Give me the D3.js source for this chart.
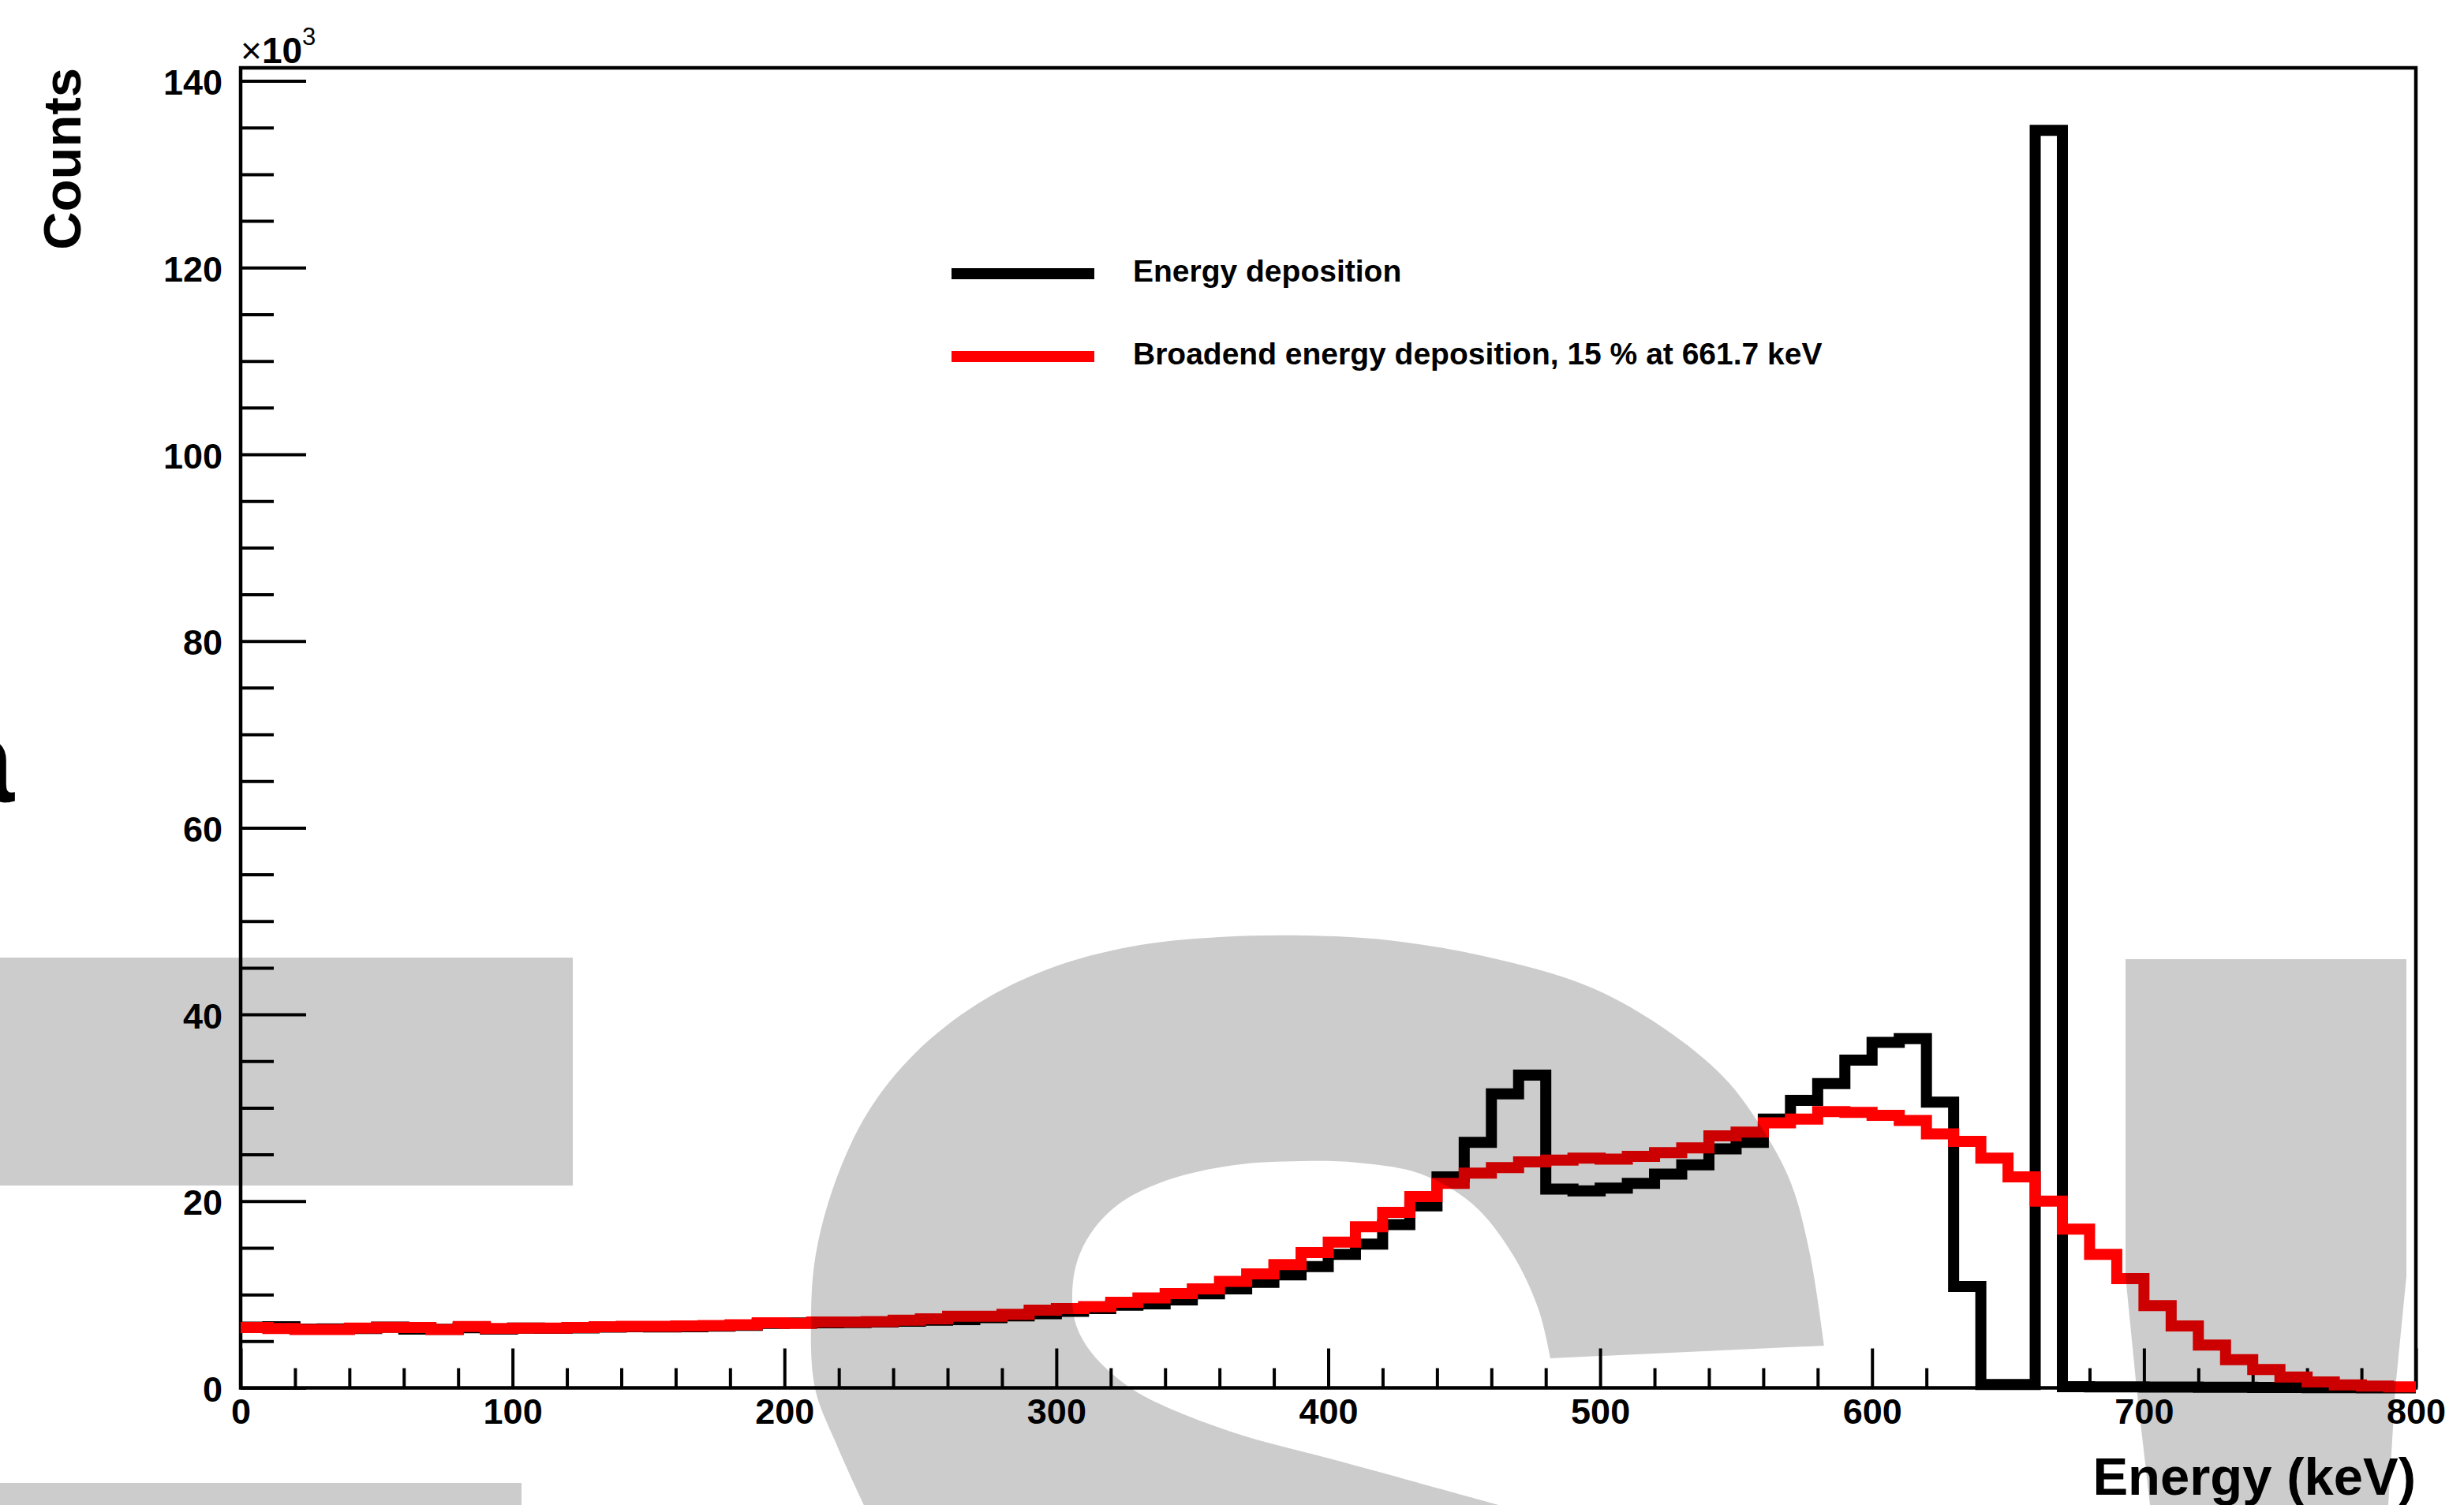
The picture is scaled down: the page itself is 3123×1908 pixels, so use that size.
<!DOCTYPE html>
<html>
<head>
<meta charset="utf-8">
<script src="https://cdn.jsdelivr.net/npm/d3@7"></script>
<style>
  html, body { margin: 0; padding: 0; background: #fff; }
  svg { display: block; }
  text { font-family: "Liberation Sans", Arial, Helvetica, sans-serif; }
</style>
</head>
<body>
<script>
// ---------------- DATA ----------------
const binWidth = 10;        // keV
const xDomain = [0, 800];
const yMax = 141.4;          // x10^3 counts
// Energy deposition (x10^3 counts per 10 keV bin), bins 0-10 ... 790-800 keV
const energyDeposition = [
  6.50, 6.55, 6.30, 6.32, 6.35, 6.50, 6.30, 6.28, 6.45, 6.30,
  6.40, 6.38, 6.42, 6.50, 6.55, 6.52, 6.55, 6.62, 6.70, 6.90,
  6.95, 6.98, 7.00, 7.05, 7.15, 7.25, 7.30, 7.53, 7.70, 7.95,
  8.20, 8.49, 8.85, 9.00, 9.42, 10.07, 10.6, 11.3, 12.1, 13.0,
  14.3, 15.4, 17.5, 19.5, 22.6, 26.3, 31.5, 33.5, 21.3, 21.1,
  21.4, 21.9, 22.9, 23.9, 25.6, 26.3, 28.8, 30.8, 32.6, 35.1,
  37.0, 37.4, 30.6, 10.85, 0.35, 0.35, 134.7, 0.12, 0.10, 0.10,
  0.09, 0.08, 0.07, 0.06, 0.05, 0.04, 0.03, 0.02, 0.01, 0.01
];
// Broadened energy deposition, 15 % at 661.7 keV
const broadenedDeposition = [
  6.46, 6.35, 6.26, 6.26, 6.40, 6.49, 6.46, 6.26, 6.57, 6.35,
  6.40, 6.40, 6.46, 6.54, 6.60, 6.60, 6.63, 6.68, 6.77, 6.97,
  6.91, 7.05, 7.05, 7.10, 7.25, 7.39, 7.67, 7.67, 7.87, 8.32,
  8.50, 8.70, 9.16, 9.64, 10.1, 10.6, 11.4, 12.2, 13.2, 14.5,
  15.6, 17.25, 18.8, 20.5, 21.9, 23.0, 23.6, 24.2, 24.4, 24.6,
  24.5, 24.8, 25.2, 25.7, 27.0, 27.4, 28.4, 28.8, 29.6, 29.5,
  29.2, 28.65, 27.2, 26.4, 24.6, 22.6, 20.0, 17.0, 14.3, 11.7,
  8.8, 6.63, 4.58, 3.03, 1.96, 1.17, 0.63, 0.32, 0.18, 0.10
];
const xMajorTicks = [0, 100, 200, 300, 400, 500, 600, 700, 800];
const xMinorTicks = d3.range(0, 801, 20).filter(v => v % 100 !== 0);
const yMajorTicks = [0, 20, 40, 60, 80, 100, 120, 140];
const yMinorTicks = d3.range(0, 141, 5).filter(v => v % 20 !== 0);
const legendLabels = ["Energy deposition", "Broadend energy deposition, 15 % at 661.7 keV"];
const seriesColors = ["#000000", "#ff0000"];
const xTitle = "Energy (keV)";
const yTitle = "Counts";

// ---------------- LAYOUT ----------------
const W = 3123, H = 1908;
const frame = { left: 305, right: 3062, top: 86, bottom: 1759.5 };

const svg = d3.select("body").append("svg")
  .attr("width", W).attr("height", H).attr("viewBox", `0 0 ${W} ${H}`);

const x = d3.scaleLinear().domain(xDomain).range([frame.left, frame.right]);
const y = d3.scaleLinear().domain([0, yMax]).range([frame.bottom, frame.top]);

// Frame
svg.append("rect")
  .attr("x", frame.left).attr("y", frame.top)
  .attr("width", frame.right - frame.left).attr("height", frame.bottom - frame.top)
  .attr("fill", "none").attr("stroke", "#000").attr("stroke-width", 4.5);

// Axes (ticks inside the frame, ROOT style)
const xMinorAxis = d3.axisBottom(x).tickValues(xMinorTicks).tickSize(-25).tickSizeOuter(0).tickFormat("");
const xMajorAxis = d3.axisBottom(x).tickValues(xMajorTicks).tickSize(-50).tickSizeOuter(0).tickPadding(14);
const yMinorAxis = d3.axisLeft(y).tickValues(yMinorTicks).tickSize(-42).tickSizeOuter(0).tickFormat("");
const yMajorAxis = d3.axisLeft(y).tickValues(yMajorTicks).tickSize(-83).tickSizeOuter(0).tickPadding(23);

function styleAxis(g) {
  g.select(".domain").remove();
  g.selectAll(".tick line").attr("stroke", "#000").attr("stroke-width", 4);
  g.selectAll(".tick text")
    .attr("fill", "#000")
    .style("font-family", '"Liberation Sans", Arial, sans-serif')
    .style("font-weight", "bold")
    .style("font-size", "45px");
}
svg.append("g").attr("transform", `translate(0,${frame.bottom})`).call(xMinorAxis).call(styleAxis);
svg.append("g").attr("transform", `translate(0,${frame.bottom})`).call(xMajorAxis).call(styleAxis);
svg.append("g").attr("transform", `translate(${frame.left},0)`).call(yMinorAxis).call(styleAxis);
const yg = svg.append("g").attr("transform", `translate(${frame.left},0)`).call(yMajorAxis).call(styleAxis);
yg.selectAll(".tick text").attr("dy", "0.38em");

// Histograms
function stepPoints(values) {
  const pts = values.map((v, i) => [i * binWidth, v]);
  pts.push([values.length * binWidth, values[values.length - 1]]);
  return pts;
}
const line = d3.line().x(d => x(d[0])).y(d => y(d[1])).curve(d3.curveStepAfter);
[energyDeposition, broadenedDeposition].forEach((vals, i) => {
  svg.append("path")
    .attr("d", line(stepPoints(vals)))
    .attr("fill", "none")
    .attr("stroke", seriesColors[i])
    .attr("stroke-width", 14)
    .attr("stroke-linejoin", "miter")
    .attr("stroke-linecap", "butt");
});

// Exponent label
const expo = svg.append("text").attr("x", frame.left).attr("y", 80)
  .style("font-size", "46px").attr("fill", "#000");
expo.append("tspan").text("×").style("font-weight", "normal");
expo.append("tspan").text("10").style("font-weight", "bold");
expo.append("tspan").text("3").attr("dy", -23).style("font-size", "31px").style("font-weight", "normal");

// Axis titles
svg.append("text")
  .attr("transform", `translate(102,${frame.top}) rotate(-90)`)
  .attr("text-anchor", "end")
  .style("font-size", "67px").style("font-weight", "bold")
  .text(yTitle);
svg.append("text")
  .attr("x", frame.right).attr("y", 1895)
  .attr("text-anchor", "end")
  .style("font-size", "67px").style("font-weight", "bold")
  .text(xTitle);

// Legend
const legendY = [347, 452];
legendLabels.forEach((lab, i) => {
  svg.append("line")
    .attr("x1", 1206).attr("x2", 1387)
    .attr("y1", legendY[i]).attr("y2", legendY[i])
    .attr("stroke", seriesColors[i]).attr("stroke-width", 14);
  svg.append("text")
    .attr("x", 1436).attr("y", legendY[i] + 10)
    .style("font-size", "39px").style("font-weight", "bold")
    .text(lab);
});

// Partial glyph at the left edge (cut off in the original as well)
svg.append("text")
  .attr("x", 18).attr("y", 1017)
  .attr("text-anchor", "end")
  .style("font-size", "150px").style("font-weight", "bold")
  .text("a");

// Gray watermark shapes (translucent overlay)
const wm = svg.append("g").attr("fill", "#000").attr("fill-opacity", 0.2);
wm.append("rect").attr("x", 0).attr("y", 1214).attr("width", 726).attr("height", 289);
wm.append("rect").attr("x", 0).attr("y", 1880).attr("width", 661).attr("height", 40);

const smooth = d3.line().curve(d3.curveCatmullRom.alpha(0.5));
const outerArc = [
  [1095,1908],[1061,1833],[1033,1760],[1028,1667],[1034,1590],[1058,1500],[1100,1410],
  [1160,1335],[1240,1272],[1330,1228],[1434,1200],[1545,1188],[1653,1186],[1760,1192],
  [1880,1212],[2012,1250],[2108,1303],[2185,1366],[2233,1430],[2270,1500],[2294,1590],
  [2312,1706]
];
const innerArc = [
  [1965,1722],[1950,1660],[1917,1590],[1867,1527],[1800,1488],[1720,1474],[1650,1472],
  [1565,1477],[1480,1496],[1420,1525],[1385,1560],[1365,1600],[1359,1643],[1364,1680],
  [1382,1713],[1410,1742],[1450,1770],[1560,1815],[1700,1853],[1900,1908]
];
const sPath = smooth(outerArc) + "L" + smooth(innerArc).slice(1) + "Z";
wm.append("path").attr("d", sPath);

const vShape = [[2694,1216],[3050,1216],[3050,1618],[3036,1760],[3027,1908],[2725,1908],[2708,1760],[2694,1618]];
wm.append("path").attr("d", d3.line().curve(d3.curveLinearClosed)(vShape));
</script>
</body>
</html>
